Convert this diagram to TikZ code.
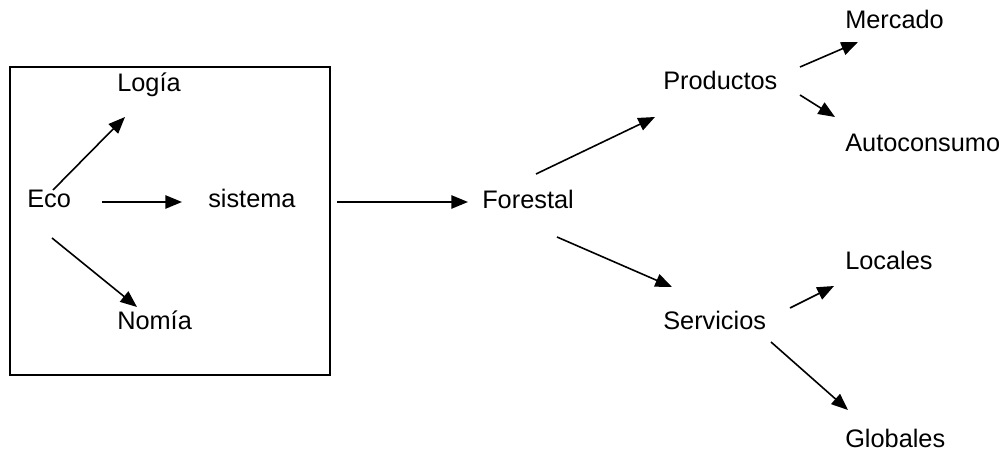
\documentclass[tikz,border=0pt]{standalone}
\usepackage{fontspec}
\setmainfont{Liberation Sans}
\usetikzlibrary{arrows.meta}
\begin{document}
\begin{tikzpicture}[x=0.75pt,y=-0.75pt,
  lbl/.style={anchor=base west,inner sep=0pt,font=\fontsize{19}{23}\selectfont},
  arr/.style={line width=1.2pt,-{Triangle[length=12.5pt,width=10pt]}}]
\useasboundingbox (0,0) rectangle (1001,470);
\draw[line width=1pt] (10,67) rectangle (330,375);
\node[lbl] (eco) at (27,208) {Eco};
\node[lbl] (logia) at (117,92) {Logía};
\node[lbl] (sistema) at (208,208) {sistema};
\node[lbl] (nomia) at (117,330) {Nomía};
\node[lbl] (forestal) at (482,209) {Forestal};
\node[lbl] (productos) at (663,90) {Productos};
\node[lbl] (mercado) at (845,29) {Mercado};
\node[lbl] (autoconsumo) at (845,152) {Autoconsumo};
\node[lbl] (servicios) at (663,330) {Servicios};
\node[lbl] (locales) at (845,270) {Locales};
\node[lbl] (globales) at (845,448) {Globales};
\draw[arr] ([shift={(26,-18)}]eco.base west) -- ([shift={(8,25)}]logia.base west);
\draw[arr] ([shift={(75,-6)}]eco.base west) -- ([shift={(-26,-6)}]sistema.base west);
\draw[arr] ([shift={(25,30)}]eco.base west) -- ([shift={(20,-23)}]nomia.base west);
\draw[arr] ([shift={(129,-6)}]sistema.base west) -- ([shift={(-14,-7)}]forestal.base west);
\draw[arr] ([shift={(54,-35)}]forestal.base west) -- ([shift={(-8,27)}]productos.base west);
\draw[arr] ([shift={(75,28)}]forestal.base west) -- ([shift={(9,-43)}]servicios.base west);
\draw[arr] ([shift={(137,-23)}]productos.base west) -- ([shift={(13,13)}]mercado.base west);
\draw[arr] ([shift={(137,5)}]productos.base west) -- ([shift={(-10,-35)}]autoconsumo.base west);
\draw[arr] ([shift={(127,-22)}]servicios.base west) -- ([shift={(-11,16)}]locales.base west);
\draw[arr] ([shift={(108,12)}]servicios.base west) -- ([shift={(3,-38)}]globales.base west);
\end{tikzpicture}
\end{document}
